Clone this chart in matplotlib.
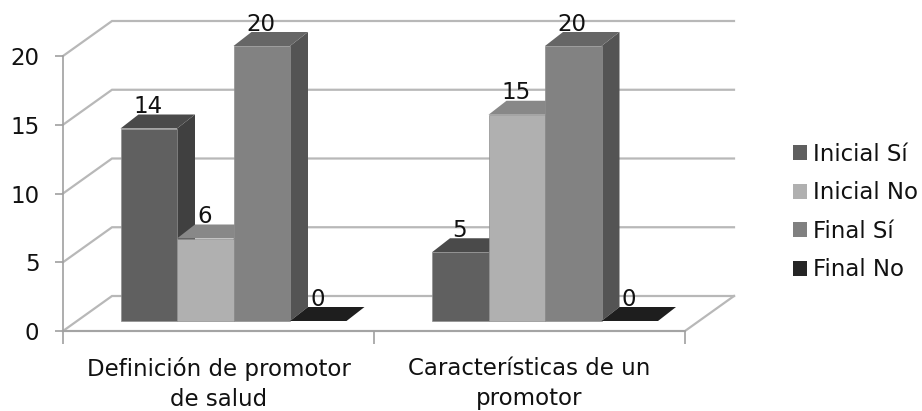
import matplotlib
matplotlib.use("Agg")
import matplotlib.pyplot as plt
from matplotlib.patches import Polygon, Patch
from matplotlib.ticker import FixedLocator, NullFormatter

categories = ["Definición de promotor\nde salud", "Características de un\npromotor"]
series_names = ["Inicial Sí", "Inicial No", "Final Sí", "Final No"]
inicial_si = [14, 5]
inicial_no = [6, 15]
final_si = [20, 20]
final_no = [0, 0]
y_ticks = [0, 5, 10, 15, 20]

front_colors = ["#606060", "#b0b0b0", "#828282", "#1e1e1e"]
top_colors = ["#4a4a4a", "#888888", "#666666", "#1e1e1e"]
side_colors = ["#404040", "#6e6e6e", "#545454", "#1e1e1e"]
legend_colors = ["#5f5f5f", "#b0b0b0", "#808080", "#252525"]

W, H = 922, 411
FS = 16.5
fig = plt.figure(figsize=(W / 100, H / 100), dpi=100)
plt.rcParams["font.family"] = ["DejaVu Sans"]
ax = fig.add_axes([63 / W, 1 - 331 / H, 622 / W, 275 / H])
ax.set_xlim(0, len(categories))
ax.set_ylim(0, 20)

PX = 2 / 622          # data x per pixel
PY = 20 / 275         # data y per pixel
wall_dx, wall_dy = 49 * PX, 35 * PY
bar_dx, bar_dy = 18 * PX, 14 * PY
floor_dy = 10 * PY
bar_w = 56.5 * PX
group_start = [57.5 * PX, 369 * PX]
grid_col = "#b8b8b8"

# walls and gridlines
for t in y_ticks:
    ax.plot([0, wall_dx, 2 + wall_dx], [t, t + wall_dy, t + wall_dy], color=grid_col,
            lw=1.6, clip_on=False, zorder=1, solid_joinstyle="miter")
ax.plot([0, 2, 2 + wall_dx], [0, 0, wall_dy], color=grid_col, lw=1.6, clip_on=False, zorder=1)

# 3-D bars
z = 2
all_series = [inicial_si, inicial_no, final_si, final_no]
for g, start in enumerate(group_start):
    for s, vals in enumerate(all_series):
        v = vals[g]
        x0 = start + s * bar_w
        x1 = x0 + bar_w
        b = floor_dy
        t = b + v
        if v > 0:
            ax.add_patch(Polygon([(x1, b), (x1 + bar_dx, b + bar_dy), (x1 + bar_dx, t + bar_dy), (x1, t)],
                                 fc=side_colors[s], ec="none", zorder=z, clip_on=False))
        ax.add_patch(Polygon([(x0, t), (x1, t), (x1 + bar_dx, t + bar_dy), (x0 + bar_dx, t + bar_dy)],
                             fc=top_colors[s], ec="none", zorder=z, clip_on=False))
        if v > 0:
            ax.bar(x0, v, bar_w, bottom=b, align="edge", color=front_colors[s], zorder=z,
                   edgecolor="#8f8f8f", linewidth=0.5, clip_on=False)
        z += 1

for g, start in enumerate(group_start):
    for s, vals in enumerate(all_series):
        ax.text(start + (s + 0.5) * bar_w - PX, vals[g] + floor_dy + 22 * PY, str(vals[g]), ha="center",
                va="center", fontsize=FS, color="#111111", zorder=50, clip_on=False)

for side in ["top", "right"]:
    ax.spines[side].set_visible(False)
for side in ["left", "bottom"]:
    ax.spines[side].set_color("#a0a0a0")
    ax.spines[side].set_linewidth(1.2)
    ax.spines[side].set_zorder(1.5)

ax.set_yticks(y_ticks)
ax.tick_params(axis="y", length=6, width=1.2, color="#a0a0a0", labelsize=FS, pad=11, labelcolor="#111111")
ax.xaxis.set_major_locator(FixedLocator(range(len(categories) + 1)))
ax.xaxis.set_major_formatter(NullFormatter())
ax.xaxis.set_minor_locator(FixedLocator([i + 0.5 for i in range(len(categories))]))
ax.set_xticklabels(categories, minor=True, fontsize=16.5, color="#111111", linespacing=1.38)
ax.tick_params(axis="x", which="major", length=9, width=1.2, color="#a0a0a0")
ax.tick_params(axis="x", which="minor", length=0, pad=18.5)

handles = [Patch(fc=c, ec="none") for c in legend_colors]
fig.legend(handles, series_names, loc="center left", bbox_to_anchor=(772 / W, 1 - 212 / H),
           frameon=False, fontsize=16.5, handlelength=0.62, handleheight=0.62, handletextpad=0.28,
           labelspacing=0.68, labelcolor="#111111", borderpad=0.4)

fig.savefig("out.png", dpi=100)
